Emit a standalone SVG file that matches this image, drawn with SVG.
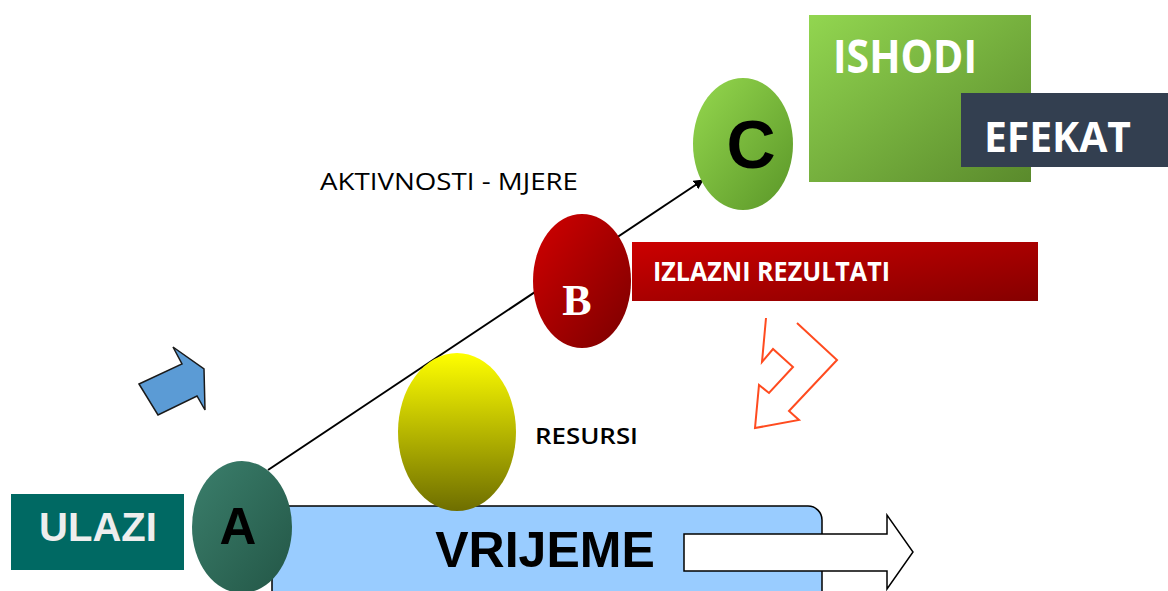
<svg xmlns="http://www.w3.org/2000/svg" width="1168" height="591" viewBox="0 0 1168 591">
<defs>
<linearGradient id="gA" x1="0" y1="0" x2="1" y2="1"><stop offset="0" stop-color="#3b7f6c"/><stop offset="1" stop-color="#235646"/></linearGradient>
<linearGradient id="gY" x1="0" y1="0" x2="0" y2="1"><stop offset="0" stop-color="#ffff00"/><stop offset="1" stop-color="#6e6e00"/></linearGradient>
<linearGradient id="gB" x1="0" y1="0" x2="1" y2="1"><stop offset="0" stop-color="#d20000"/><stop offset="1" stop-color="#7a0000"/></linearGradient>
<linearGradient id="gR" x1="0" y1="0" x2="1" y2="1"><stop offset="0" stop-color="#cc0000"/><stop offset="1" stop-color="#850000"/></linearGradient>
<linearGradient id="gC" x1="0" y1="0" x2="1" y2="1"><stop offset="0" stop-color="#95d84e"/><stop offset="1" stop-color="#5a9628"/></linearGradient>
<linearGradient id="gI" x1="0" y1="0" x2="1" y2="1"><stop offset="0" stop-color="#92d650"/><stop offset="1" stop-color="#5a8a2c"/></linearGradient>
<marker id="arr" markerWidth="10" markerHeight="10" refX="9" refY="5" orient="auto" markerUnits="userSpaceOnUse"><path d="M0,0 L10,5 L0,10 z" fill="#000"/></marker>
</defs>
<style>
.rnd{font-family:"Liberation Sans",Arial,sans-serif;font-weight:bold}
.cal{font-family:"Open Sans",Lato,sans-serif}
</style>
<g id="connectors">
<line x1="268" y1="470" x2="703" y2="180" stroke="#000" stroke-width="2" marker-end="url(#arr)"/>
</g>
<g id="vrijeme">
<rect x="272" y="506" width="550" height="100" rx="14" fill="#99ccff" stroke="#000" stroke-width="1.5"/>
<text class="rnd" x="545" y="567" font-size="50" text-anchor="middle" fill="#000">VRIJEME</text>
<path d="M684,534 L887,534 L887,515 L913,552 L887,589 L887,571 L684,571 Z" fill="#fff" stroke="#000" stroke-width="1.5"/>
</g>
<g id="ulazi">
<rect x="11" y="494" width="173" height="76" fill="#006963"/>
<text class="rnd" x="98" y="541" font-size="40" text-anchor="middle" fill="#eeeeee">ULAZI</text>
</g>
<g id="nodeA">
<ellipse cx="242" cy="527" rx="50" ry="66" fill="url(#gA)"/>
<text class="rnd" x="238" y="544" font-size="51" text-anchor="middle" fill="#000">A</text>
</g>
<g id="resursi">
<ellipse cx="457" cy="432" rx="59" ry="79" fill="url(#gY)"/>
<text class="cal" x="535" y="444" font-size="22" font-weight="600" textLength="103" lengthAdjust="spacingAndGlyphs" fill="#000">RESURSI</text>
</g>
<g id="nodeB">
<ellipse cx="582" cy="281" rx="49" ry="67" fill="url(#gB)"/>
<text x="577" y="315" font-size="44" font-weight="bold" text-anchor="middle" fill="#fff" font-family="'Liberation Serif',serif">B</text>
</g>
<g id="izlazni">
<rect x="632" y="242" width="406" height="59" fill="url(#gR)"/>
<text class="cal" x="653" y="281" font-size="26" font-weight="bold" textLength="237" lengthAdjust="spacingAndGlyphs" fill="#fff">IZLAZNI REZULTATI</text>
</g>
<g id="aktivnosti">
<text class="cal" x="320" y="190" font-size="23" textLength="258" lengthAdjust="spacingAndGlyphs" fill="#000">AKTIVNOSTI - MJERE</text>
</g>
<g id="nodeC">
<ellipse cx="743" cy="144" rx="50" ry="66" fill="url(#gC)"/>
<text class="rnd" x="751" y="168" font-size="68" text-anchor="middle" fill="#000">C</text>
</g>
<g id="ishodi">
<rect x="809" y="15" width="222" height="167" fill="url(#gI)"/>
<text class="cal" x="833" y="73" font-size="47" font-weight="bold" textLength="144" lengthAdjust="spacingAndGlyphs" fill="#fff">ISHODI</text>
</g>
<g id="efekat">
<rect x="961" y="93" width="207" height="74" fill="#333f50"/>
<text class="cal" x="984" y="152" font-size="42" font-weight="bold" textLength="147" lengthAdjust="spacingAndGlyphs" fill="#fff">EFEKAT</text>
</g>
<g id="blueArrow">
<path d="M139,384 L182,364 L173,347 L204,369 L205,410 L197,396 L158,415 Z" fill="#5b9bd5" stroke="#1a1a1a" stroke-width="1.5" stroke-linejoin="miter"/>
</g>
<g id="orangeArrow">
<path d="M766,318 L762,362 L773,349 L793,367 L769,393 L759,385 L755,428 L799,420 L789,411 L837,360 L797,323" fill="none" stroke="#ff4b1f" stroke-width="2"/>
</g>
</svg>
